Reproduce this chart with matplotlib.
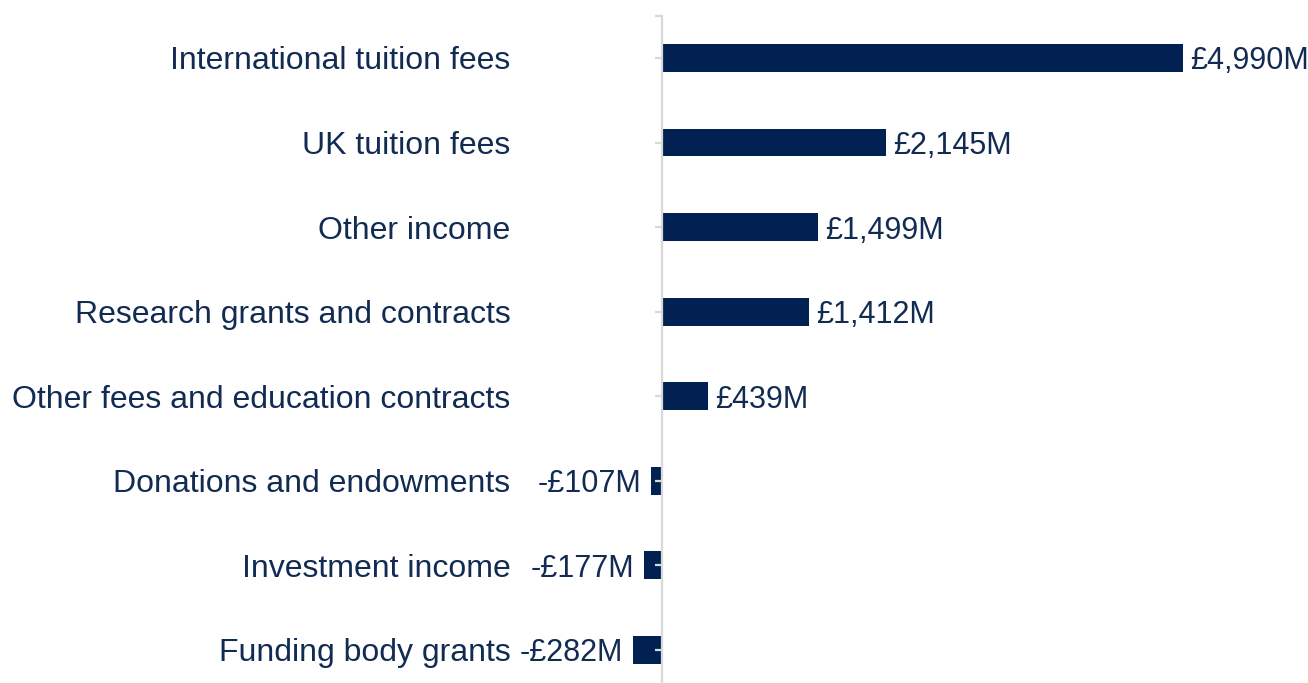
import numpy as np
import matplotlib.pyplot as plt

# =====================================================
# DATA
# =====================================================

categories = [
    "International tuition fees",
    "UK tuition fees",
    "Other income",
    "Research grants and contracts",
    "Other fees and education contracts",
    "Donations and endowments",
    "Investment income",
    "Funding body grants",
]

values = [4990, 2145, 1499, 1412, 439, -107, -177, -282]

value_labels = ["£4,990M", "£2,145M", "£1,499M", "£1,412M", "£439M",
                "-£107M", "-£177M", "-£282M"]

# =====================================================
# STYLE
# =====================================================

bar_color = "#002152"
text_color = "#112b52"
axis_color = "#d9d9d9"

plt.rcParams['font.family'] = ['Liberation Sans', 'DejaVu Sans']

# =====================================================
# PLOT
# =====================================================

fig = plt.figure(figsize=(13.08, 6.83), dpi=100)
ax = fig.add_axes([0, 0, 1, 1 - 15.7 / 683])

y = np.arange(len(categories))

ax.barh(y, values, height=0.33, color=bar_color, zorder=2)

# x scale: zero at pixel 662, 0.1044 px per £M
px = 0.1044
ax.set_xlim(-662 / px, (1308 - 662) / px)
ax.set_ylim(7.5 - (692 - 683) / 84.6, -0.5)

for yi, v, lab in zip(y, values, value_labels):
    if v >= 0:
        ax.annotate(lab, (v, yi), xytext=(5, 0), textcoords='offset points',
                    ha='left', va='center_baseline', fontsize=22,
                    color=text_color)
    else:
        ax.annotate(lab, (v, yi), xytext=(-7, 0), textcoords='offset points',
                    ha='right', va='center_baseline', fontsize=22,
                    color=text_color)

for s in ['top', 'right', 'bottom']:
    ax.spines[s].set_visible(False)

ax.set_axisbelow(False)
ax.spines['left'].set_position(('data', 0))
ax.spines['left'].set_color(axis_color)
ax.spines['left'].set_linewidth(1.6)
ax.spines['left'].set_zorder(3)

ax.set_xticks([])
ax.set_yticks(y)
ax.set_yticklabels(categories, fontsize=23, color=text_color,
                   va='center_baseline')
ax.set_yticks([-0.5], minor=True)
ax.tick_params(axis='y', which='both', direction='out', length=5,
               width=1.6, color=axis_color, pad=104)
ax.tick_params(axis='y', which='minor', pad=0)

plt.savefig("out.png", dpi=100)
